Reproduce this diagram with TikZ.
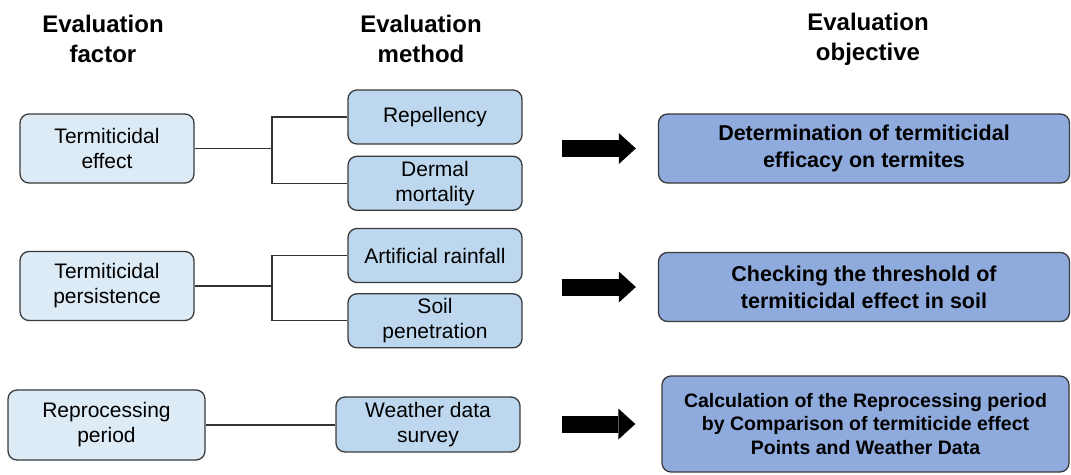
\documentclass[tikz,border=0pt]{standalone}
\usepackage{fontspec}
\setmainfont{Liberation Sans}
\usetikzlibrary{positioning,arrows.meta}

\definecolor{factorfill}{HTML}{DDEBF7}
\definecolor{methodfill}{HTML}{BDD7EE}
\definecolor{objfill}{HTML}{8FAADC}
\definecolor{boxline}{HTML}{3A3A3A}

\begin{document}
\begin{tikzpicture}[x=1pt, y=-1pt,
  box/.style={draw=boxline, line width=1.3pt, rounded corners=9pt,
              align=center, inner sep=0pt},
  factor/.style={box, fill=factorfill, minimum width=174pt, minimum height=69pt,
                 font=\fontsize{21}{25}\selectfont},
  method/.style={box, fill=methodfill, minimum width=174pt, minimum height=54pt,
                 font=\fontsize{21}{25}\selectfont},
  objective/.style={box, fill=objfill, minimum width=411pt, minimum height=69pt,
                    font=\bfseries\fontsize{21.5}{27}\selectfont},
  head/.style={align=center, font=\bfseries\fontsize{24}{30}\selectfont},
  link/.style={draw=black!80, line width=1.1pt},
  bigarrow/.style={line width=17pt, -{Triangle[length=17pt, width=31pt, line width=0pt]}}
]
  \useasboundingbox (0,0) rectangle (1071,474);

  % column heads
  \node (hfac) [head] at (103,39)  {Evaluation\\factor};
  \node (hmet) [head] at (421,39)  {Evaluation\\method};
  \node (hobj) [head] at (868,39)  {Evaluation\\objective};

  % evaluation factors
  \node (te) [factor] at (107,148.5) {Termiticidal\\effect};
  \node (tp) [factor] at (107,286)   {Termiticidal\\persistence};
  \node (rp) [factor, minimum width=197pt, minimum height=70pt]
    at (106.5,425) {Reprocessing\\period};

  % evaluation methods
  \node (rep)  [method] at (435,117)   {Repellency};
  \node (der)  [method, below=11pt of rep]  {Dermal\\mortality};
  \node (art)  [method] at (435,255.5) {Artificial rainfall};
  \node (soil) [method, below=10pt of art] {Soil\\penetration};
  \node (wea)  [method, minimum width=184pt, minimum height=55pt]
    at (428,424.5) {Weather data\\survey};

  % evaluation objectives
  \node (det) [objective] at (864,148.5)
    {Determination of termiticidal\\efficacy on termites};
  \node (chk) [objective] at (864,287)
    {Checking the threshold of\\termiticidal effect in soil};
  \node (calc) [objective, minimum width=407pt, minimum height=96pt,
                font=\bfseries\fontsize{19.5}{23.5}\selectfont] at (865.5,424)
    {Calculation of the Reprocessing period\\by Comparison of termiticide effect\\Points and Weather Data};

  % branches from factor to methods
  \coordinate (j1) at (272,148.5);
  \coordinate (j2) at (272,286);
  \draw[link] (te.east) -- (j1);
  \draw[link] (rep.west) -| (j1) |- (der.west);
  \draw[link] (tp.east) -- (j2);
  \draw[link] (art.west) -| (j2) |- (soil.west);
  \draw[link] (rp.east) -- (rp.east -| wea.west);

  % fat arrows towards the objectives
  \draw[bigarrow, shorten <=39pt, shorten >=22pt] (rep.east |- det.west) -- (det.west);
  \draw[bigarrow, shorten <=39pt, shorten >=22pt] (art.east |- chk.west) -- (chk.west);
  \draw[bigarrow, shorten <=41pt, shorten >=26pt] (wea.east |- calc.west) -- (calc.west);
\end{tikzpicture}
\end{document}
